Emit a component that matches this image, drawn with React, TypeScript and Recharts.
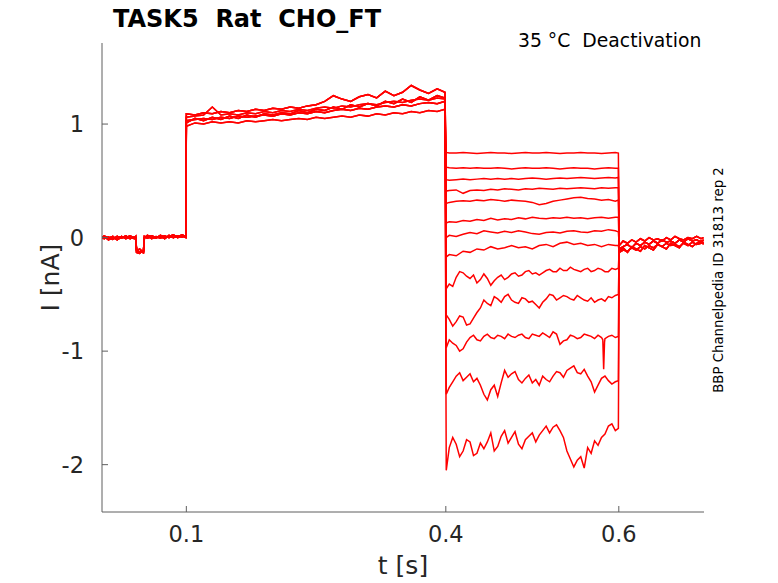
import { LineChart, Line, XAxis, YAxis } from 'recharts';

// holding segment before the step (with the short test dip)
const baseT = [0.0025, 0.005, 0.01, 0.015, 0.02, 0.025, 0.03, 0.035, 0.04, 0.0415, 0.0425, 0.046, 0.05, 0.0505, 0.0515, 0.055, 0.06, 0.065, 0.07, 0.075, 0.08, 0.085, 0.09, 0.095, 0.0995];
const baseA = [0.01, -0.01, 0.005, -0.015, 0.01, -0.005, 0.015, -0.01, 0.005, 0.0, -0.11, -0.13, -0.12, -0.11, 0.01, -0.005, 0.015, 0.0, 0.01, -0.01, 0.02, 0.0, 0.015, 0.005, 0.02];
const baseB = [-0.01, 0.01, -0.02, 0.0, -0.015, 0.01, -0.01, 0.005, -0.01, -0.005, -0.12, -0.1, -0.13, -0.12, -0.005, 0.01, -0.01, 0.01, -0.005, 0.015, 0.0, 0.02, 0.005, 0.025, 0.01];
const baseC = [0.0, 0.015, -0.005, 0.01, -0.02, 0.005, 0.0, 0.015, -0.005, 0.01, -0.13, -0.14, -0.11, -0.14, 0.0, 0.02, 0.005, -0.005, 0.02, 0.005, 0.01, 0.025, 0.0, 0.015, 0.0];

// activating step 0.1 - 0.4 s
const stepT = [0.1, 0.11, 0.12, 0.13, 0.14, 0.15, 0.16, 0.17, 0.18, 0.19, 0.2, 0.21, 0.22, 0.23, 0.24, 0.25, 0.26, 0.27, 0.28, 0.29, 0.3, 0.31, 0.32, 0.33, 0.34, 0.35, 0.36, 0.37, 0.38, 0.39, 0.399];
const stepA = [0.98, 1.01, 1.0, 1.02, 1.01, 1.02, 1.01, 1.03, 1.02, 1.03, 1.04, 1.03, 1.04, 1.05, 1.04, 1.06, 1.05, 1.06, 1.07, 1.06, 1.08, 1.07, 1.09, 1.08, 1.1, 1.09, 1.11, 1.1, 1.12, 1.11, 1.13];
const stepB = [1.03, 1.04, 1.05, 1.04, 1.06, 1.05, 1.07, 1.06, 1.07, 1.08, 1.07, 1.09, 1.08, 1.1, 1.09, 1.11, 1.1, 1.12, 1.13, 1.12, 1.14, 1.13, 1.15, 1.16, 1.15, 1.17, 1.16, 1.18, 1.19, 1.18, 1.2];
const stepC = [1.06, 1.07, 1.08, 1.15, 1.08, 1.09, 1.08, 1.1, 1.09, 1.11, 1.1, 1.12, 1.11, 1.13, 1.12, 1.14, 1.15, 1.14, 1.16, 1.15, 1.17, 1.18, 1.17, 1.19, 1.2, 1.19, 1.21, 1.22, 1.21, 1.23, 1.22];
const stepD = [1.09, 1.08, 1.1, 1.09, 1.11, 1.1, 1.12, 1.11, 1.13, 1.12, 1.14, 1.13, 1.15, 1.14, 1.16, 1.17, 1.2, 1.25, 1.22, 1.2, 1.24, 1.26, 1.23, 1.29, 1.25, 1.28, 1.34, 1.3, 1.27, 1.31, 1.28];
const stepE = [1.01, 1.05, 1.03, 1.06, 1.04, 1.07, 1.05, 1.08, 1.06, 1.09, 1.08, 1.1, 1.09, 1.12, 1.1, 1.13, 1.12, 1.15, 1.13, 1.17, 1.15, 1.18, 1.16, 1.2, 1.18, 1.22, 1.19, 1.24, 1.21, 1.25, 1.23];

// deactivation tails 0.4 - 0.6 s, one per test potential
const tailT = [0.4005, 0.404, 0.412, 0.42, 0.428, 0.436, 0.444, 0.452, 0.46, 0.468, 0.476, 0.484, 0.492, 0.5, 0.508, 0.516, 0.524, 0.532, 0.54, 0.548, 0.556, 0.564, 0.572, 0.58, 0.588, 0.596, 0.5995];
const tail01 = [0.75, 0.745, 0.745, 0.75, 0.745, 0.74, 0.745, 0.75, 0.745, 0.745, 0.74, 0.745, 0.75, 0.745, 0.745, 0.75, 0.745, 0.74, 0.745, 0.745, 0.75, 0.745, 0.745, 0.74, 0.745, 0.75, 0.745];
const tail02 = [0.62, 0.615, 0.61, 0.615, 0.61, 0.615, 0.61, 0.61, 0.615, 0.61, 0.605, 0.61, 0.615, 0.61, 0.61, 0.615, 0.61, 0.605, 0.61, 0.615, 0.61, 0.61, 0.605, 0.61, 0.615, 0.61, 0.61];
const tail03 = [0.51, 0.505, 0.51, 0.515, 0.51, 0.515, 0.52, 0.515, 0.52, 0.515, 0.52, 0.515, 0.52, 0.525, 0.52, 0.515, 0.52, 0.525, 0.52, 0.525, 0.53, 0.525, 0.52, 0.525, 0.53, 0.525, 0.53];
const tail04 = [0.41, 0.415, 0.42, 0.39, 0.415, 0.42, 0.415, 0.425, 0.42, 0.43, 0.425, 0.42, 0.43, 0.425, 0.435, 0.43, 0.425, 0.435, 0.43, 0.435, 0.44, 0.435, 0.43, 0.44, 0.435, 0.44, 0.44];
const tail05 = [0.3, 0.31, 0.32, 0.325, 0.32, 0.33, 0.325, 0.335, 0.33, 0.32, 0.33, 0.325, 0.32, 0.31, 0.29, 0.3, 0.32, 0.33, 0.34, 0.35, 0.355, 0.345, 0.34, 0.33, 0.335, 0.32, 0.33];
const tail06 = [0.13, 0.14, 0.135, 0.15, 0.145, 0.16, 0.15, 0.17, 0.155, 0.165, 0.16, 0.175, 0.165, 0.18, 0.17, 0.165, 0.175, 0.17, 0.18, 0.17, 0.175, 0.165, 0.175, 0.18, 0.17, 0.18, 0.18];
const tail07 = [0.0, 0.02, 0.01, 0.03, 0.045, 0.035, 0.06, 0.05, 0.04, 0.055, 0.045, 0.06, 0.05, 0.035, 0.03, 0.045, 0.05, 0.04, 0.055, 0.06, 0.05, 0.045, 0.06, 0.055, 0.07, 0.06, 0.05];
const tail08 = [-0.17, -0.15, -0.16, -0.12, -0.13, -0.1, -0.11, -0.08, -0.1, -0.09, -0.07, -0.09, -0.08, -0.1, -0.07, -0.06, -0.08, -0.05, -0.04, -0.06, -0.05, -0.07, -0.06, -0.08, -0.06, -0.07, -0.07];
const tail09 = [-0.45, -0.41, -0.35, -0.31, -0.36, -0.4, -0.32, -0.42, -0.35, -0.37, -0.32, -0.34, -0.3, -0.32, -0.33, -0.29, -0.3, -0.27, -0.29, -0.28, -0.3, -0.27, -0.29, -0.28, -0.3, -0.28, -0.27];
const tail10 = [-0.68, -0.72, -0.74, -0.7, -0.76, -0.66, -0.55, -0.6, -0.54, -0.52, -0.55, -0.58, -0.54, -0.56, -0.62, -0.54, -0.51, -0.53, -0.52, -0.55, -0.53, -0.56, -0.57, -0.54, -0.52, -0.51, -0.5];
const tail11 = [-0.97, -0.9, -0.95, -0.98, -0.88, -0.9, -0.87, -0.88, -0.86, -0.89, -0.87, -0.86, -0.88, -0.85, -0.87, -0.86, -0.83, -0.94, -0.9, -0.87, -0.88, -0.86, -0.89, -0.88, -0.87, -0.88, -0.87];
const tail12 = [-1.38, -1.32, -1.22, -1.26, -1.2, -1.24, -1.38, -1.34, -1.4, -1.17, -1.2, -1.25, -1.24, -1.28, -1.3, -1.25, -1.22, -1.19, -1.17, -1.13, -1.2, -1.22, -1.36, -1.24, -1.26, -1.27, -1.26];
const tail13 = [-2.05, -1.85, -1.82, -1.88, -1.8, -1.9, -1.86, -1.72, -1.84, -1.7, -1.76, -1.82, -1.78, -1.72, -1.74, -1.66, -1.67, -1.7, -1.88, -2.02, -1.93, -1.85, -1.79, -1.76, -1.66, -1.7, -1.68];

// extra samples in between for the noisier (more negative) tails
const midT = [0.408, 0.416, 0.424, 0.432, 0.44, 0.448, 0.456, 0.464, 0.472, 0.48, 0.488, 0.496, 0.504, 0.512, 0.52, 0.528, 0.536, 0.544, 0.552, 0.56, 0.568, 0.576, 0.584, 0.592];
const mid09 = [-0.43, -0.3, -0.34, -0.33, -0.37, -0.36, -0.38, -0.33, -0.35, -0.31, -0.33, -0.29, -0.31, -0.31, -0.28, -0.3, -0.29, -0.26, -0.29, -0.28, -0.3, -0.27, -0.3, -0.27];
const mid10 = [-0.78, -0.69, -0.77, -0.71, -0.62, -0.58, -0.52, -0.57, -0.5, -0.57, -0.53, -0.57, -0.59, -0.57, -0.5, -0.55, -0.51, -0.54, -0.51, -0.55, -0.53, -0.55, -0.56, -0.53];
const mid11 = [-0.93, -1.0, -0.92, -0.86, -0.91, -0.85, -0.89, -0.87, -0.85, -0.88, -0.85, -0.89, -0.86, -0.84, -0.88, -0.85, -0.91, -0.86, -0.89, -0.85, -0.87, -0.86, -0.89, -0.86];
const mid12 = [-1.27, -1.19, -1.23, -1.27, -1.3, -1.43, -1.3, -1.28, -1.23, -1.18, -1.28, -1.21, -1.25, -1.22, -1.27, -1.18, -1.23, -1.15, -1.19, -1.16, -1.27, -1.3, -1.22, -1.29];
const mid13 = [-1.76, -1.93, -1.78, -1.92, -1.81, -1.8, -1.88, -1.75, -1.81, -1.71, -1.86, -1.75, -1.8, -1.7, -1.72, -1.65, -1.76, -1.95, -1.96, -2.03, -1.9, -1.83, -1.73, -1.64];

// short artefact on the -0.87 nA tail
const spikeT = [0.5815, 0.5825, 0.5835];
const spikeV = [-0.9, -1.16, -0.92];

// back to holding after 0.6 s
const postT = [0.6005, 0.605, 0.61, 0.615, 0.62, 0.625, 0.63, 0.635, 0.64, 0.645, 0.65, 0.655, 0.66, 0.665, 0.67, 0.675, 0.68, 0.685, 0.69, 0.695, 0.698];
const postA = [-0.1, -0.08, -0.06, -0.09, -0.05, -0.07, -0.04, -0.06, -0.03, -0.05, -0.02, -0.04, -0.03, -0.05, -0.02, -0.04, -0.01, -0.03, -0.02, -0.04, -0.02];
const postB = [-0.13, -0.11, -0.12, -0.09, -0.11, -0.08, -0.1, -0.07, -0.09, -0.06, -0.08, -0.05, -0.07, -0.06, -0.08, -0.05, -0.07, -0.04, -0.06, -0.05, -0.04];
const postC = [-0.07, -0.03, -0.05, -0.02, -0.04, -0.01, -0.03, 0.0, -0.02, -0.01, -0.03, 0.0, -0.02, 0.01, -0.01, -0.02, 0.0, -0.01, 0.01, -0.01, 0.0];
const postD = [-0.12, -0.09, -0.13, -0.08, -0.1, -0.12, -0.07, -0.09, -0.11, -0.06, -0.08, -0.1, -0.05, -0.07, -0.09, -0.04, -0.06, -0.08, -0.05, -0.03, -0.06];

const xTicks = [0.1, 0.4, 0.6];
const yTicks = [-2, -1, 0, 1];

type Pt = { t: number; i: number };

const seg = (ts: number[], vs: number[]): Pt[] => ts.map((t, k) => ({ t, i: vs[k] }));

type Sweep = { base: number[]; step: number[]; tail: number[]; post: number[]; extra?: Pt[] };

const sweeps: Sweep[] = [
  { base: baseA, step: stepB, tail: tail01, post: postA },
  { base: baseB, step: stepD, tail: tail02, post: postB },
  { base: baseC, step: stepA, tail: tail03, post: postC },
  { base: baseA, step: stepE, tail: tail04, post: postD },
  { base: baseB, step: stepC, tail: tail05, post: postA },
  { base: baseC, step: stepB, tail: tail06, post: postB },
  { base: baseA, step: stepD, tail: tail07, post: postC },
  { base: baseB, step: stepA, tail: tail08, post: postD },
  { base: baseC, step: stepE, tail: tail09, post: postA, extra: seg(midT, mid09) },
  { base: baseA, step: stepC, tail: tail10, post: postB, extra: seg(midT, mid10) },
  { base: baseB, step: stepB, tail: tail11, post: postC, extra: [...seg(midT, mid11), ...seg(spikeT, spikeV)] },
  { base: baseC, step: stepD, tail: tail12, post: postD, extra: seg(midT, mid12) },
  { base: baseA, step: stepE, tail: tail13, post: postA, extra: seg(midT, mid13) },
];

const sweepData = sweeps.map((s) =>
  [
    ...seg(baseT, s.base),
    ...seg(stepT, s.step),
    ...seg(tailT, s.tail),
    ...(s.extra ?? []),
    ...seg(postT, s.post),
  ].sort((a, b) => a.t - b.t)
);

const font = 'DejaVu Sans, sans-serif';
const axisGray = '#5e5e5e';

export default function App() {
  return (
    <div style={{ position: 'absolute', left: 0, top: 0, width: 778, height: 583, background: '#fff' }}>
      <LineChart width={778} height={583} margin={{ top: 43, right: 74, bottom: 41, left: 62 }}>
        <XAxis
          dataKey="t"
          type="number"
          domain={[0.0025, 0.6985]}
          ticks={xTicks}
          tickFormatter={(v) => String(v)}
          height={30}
          tickSize={-6}
          tickMargin={20}
          axisLine={{ stroke: axisGray }}
          tickLine={{ stroke: axisGray }}
          tick={{ fontSize: 22.5, fill: '#262626', fontFamily: font }}
          allowDataOverflow
        />
        <YAxis
          type="number"
          domain={[-2.417, 1.714]}
          ticks={yTicks}
          width={40}
          tickSize={-6}
          tickMargin={24}
          axisLine={{ stroke: axisGray }}
          tickLine={{ stroke: axisGray }}
          tick={{ fontSize: 22.5, fill: '#262626', fontFamily: font }}
          allowDataOverflow
        />
        {sweepData.map((d, k) => (
          <Line
            key={k}
            data={d}
            dataKey="i"
            type="linear"
            stroke="#ff0000"
            strokeWidth={1.5}
            dot={false}
            isAnimationActive={false}
          />
        ))}
      </LineChart>
      <svg
        width={778}
        height={583}
        style={{ position: 'absolute', left: 0, top: 0, pointerEvents: 'none' }}
        fontFamily={font}
      >
        <text x={113} y={26.7} fontSize={24} fontWeight="bold" fill="#000" style={{ whiteSpace: 'pre' }}>
          TASK5  Rat  CHO_FT
        </text>
        <text x={518} y={46.7} fontSize={18.8} fill="#000" style={{ whiteSpace: 'pre' }}>
          35 °C  Deactivation
        </text>
        <text x={403} y={574} fontSize={25} fill="#262626" textAnchor="middle">
          t [s]
        </text>
        <text
          x={59.5}
          y={277.6}
          fontSize={25}
          fill="#262626"
          textAnchor="middle"
          transform="rotate(-90 59.5 277.6)"
        >
          I [nA]
        </text>
        <text
          x={722.5}
          y={280}
          fontSize={13.3}
          fill="#000"
          textAnchor="middle"
          transform="rotate(-90 722.5 280)"
        >
          BBP Channelpedia ID 31813 rep 2
        </text>
      </svg>
    </div>
  );
}
